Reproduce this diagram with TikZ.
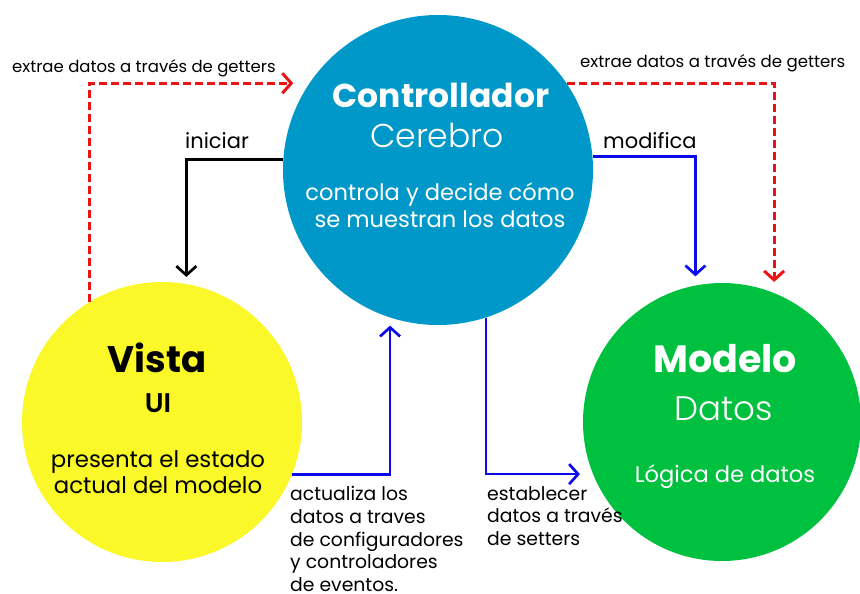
\documentclass[tikz,border=0pt]{standalone}
\usepackage{fontspec}
\setmainfont{Poppins}
\newfontfamily\lightfont{Poppins Light}
\newfontfamily\halbfett{Poppins SemiBold}
\usetikzlibrary{arrows.meta,calc,positioning}
\definecolor{azul}{RGB}{0,152,200}
\definecolor{amarillo}{RGB}{250,248,40}
\definecolor{verde}{RGB}{0,192,64}
\definecolor{flechaazul}{RGB}{10,10,235}
\definecolor{flecharoja}{RGB}{235,20,20}

\tikzset{
  kreis/.style={circle, draw=none, inner sep=0pt, minimum size=#1},
  pfeil/.style={line width=2.7pt, -{Straight Barb[length=9pt,width=20pt]}},
  getter/.style={pfeil, flecharoja, line width=3pt, dash pattern=on 8pt off 4pt},
  etikett/.style={inner sep=0pt, font=\fontsize{18.8}{22.8}\selectfont, align=left}
}

\begin{document}
\begin{tikzpicture}[x=1pt,y=-1pt]
  \useasboundingbox (0,0) rectangle (860,594);

  % die drei Kreise
  \node[kreis=310pt, fill=azul] (ctrl) at (438,170) {};
  \node[kreis=280pt, fill=amarillo] (vista) at (162,422) {};
  \node[kreis=278pt, fill=verde] (modelo) at (722,422) {};

  % Texte in den Kreisen
  \node[anchor=base, inner sep=0pt, white, font=\bfseries\fontsize{33}{38}\selectfont] (ctrl-titel) at (441,107) {Controllador};
  \node[anchor=base, inner sep=0pt, white, font=\lightfont\fontsize{33}{38}\selectfont] (ctrl-sub) at (437,147) {Cerebro};
  \node[anchor=base, inner sep=0pt, white, font=\fontsize{22.6}{27}\selectfont, align=center] (ctrl-text) at (440,227) {controla y decide cómo\\se muestran los datos};

  \node[anchor=base, inner sep=0pt, font=\bfseries\fontsize{37}{40}\selectfont] (vista-titel) at (157,372) {Vista};
  \node[anchor=base, inner sep=0pt, font=\halbfett\fontsize{27}{30}\selectfont] (vista-sub) at (158,412) {UI};
  \node[anchor=base, inner sep=0pt, font=\fontsize{22.8}{26}\selectfont, align=center] (vista-text) at (158,493) {presenta el estado\\actual del modelo};

  \node[anchor=base, inner sep=0pt, white, font=\bfseries\fontsize{38}{42}\selectfont] (modelo-titel) at (725,372) {Modelo};
  \node[anchor=base, inner sep=0pt, white, font=\lightfont\fontsize{34}{38}\selectfont] (modelo-sub) at (724,420) {Datos};
  \node[anchor=base, inner sep=0pt, white, font=\fontsize{22.6}{26}\selectfont] (modelo-text) at (725,482) {Lógica de datos};

  % Beschriftungen der Pfeile
  \node[etikett, anchor=base west, font=\fontsize{16.5}{20}\selectfont] (get-links) at (12,73) {extrae datos a través de getters};
  \node[etikett, anchor=base west, font=\fontsize{16.6}{20}\selectfont] (get-rechts) at (580,68) {extrae datos a través de getters};
  \node[etikett, anchor=base west, font=\fontsize{21}{24}\selectfont] (iniciar) at (185,148) {iniciar};
  \node[etikett, anchor=base west, font=\fontsize{21}{24}\selectfont] (modifica) at (603,148) {modifica};
  \node[etikett, anchor=north west] (actualiza) at (290,486) {actualiza los\\datos a traves\\de configuradores\\y controladores\\de eventos.};
  \node[etikett, anchor=north west] (establecer) at (487,486) {establecer\\datos a través\\de setters};

  % Pfeile
  \draw[getter, shorten >=16pt] (vista.121) |- (ctrl.146);
  \draw[getter, shorten >=11pt] (ctrl.34) -| (modelo.68);
  \draw[pfeil, black, shorten >=7pt] (ctrl.176) -| (vista.80);
  \draw[pfeil, flechaazul, shorten >=9pt] (ctrl.5) -| (modelo.101);
  \draw[pfeil, flechaazul, shorten >=8pt] (vista.-22) -| (ctrl.-108);
  \draw[pfeil, flechaazul, shorten >=13pt] (ctrl.-72) |- (modelo.202);
\end{tikzpicture}
\end{document}
